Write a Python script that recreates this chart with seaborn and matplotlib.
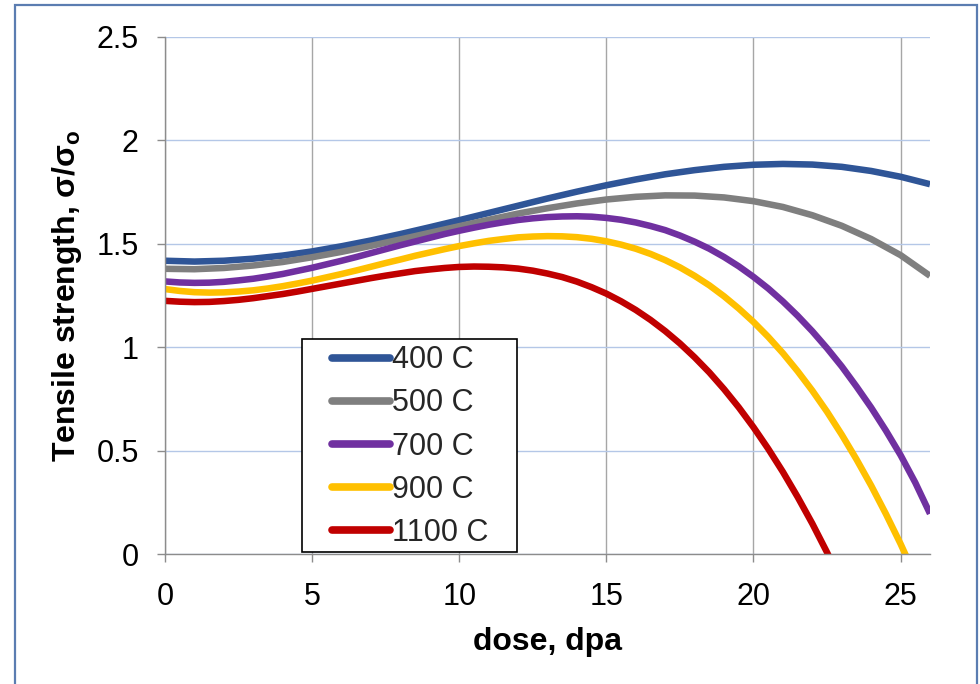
import matplotlib
matplotlib.use("Agg")
import matplotlib.pyplot as plt
import seaborn as sns
import pandas as pd
from matplotlib.patches import Rectangle

# ---- data ----
dose = list(range(0, 27))                      # 400 C and 500 C, every 1 dpa
dose_half = [i * 0.5 for i in range(53)]       # 700 C and 900 C, every 0.5 dpa
dose_1100 = [i * 0.5 for i in range(47)]       # 1100 C, every 0.5 dpa up to 23

s400 = [1.418, 1.414, 1.418, 1.428, 1.443, 1.463, 1.488, 1.516, 1.547, 1.580, 1.614,
        1.649, 1.684, 1.719, 1.752, 1.783, 1.811, 1.836, 1.856, 1.872, 1.882,
        1.886, 1.883, 1.872, 1.852, 1.824, 1.788]
s500 = [1.379, 1.377, 1.383, 1.395, 1.412, 1.435, 1.461, 1.490, 1.521, 1.553, 1.585,
        1.616, 1.646, 1.672, 1.695, 1.714, 1.727, 1.734, 1.733, 1.724, 1.706,
        1.678, 1.638, 1.587, 1.523, 1.445, 1.345]
s700 = [1.318, 1.313, 1.311, 1.312, 1.316, 1.323, 1.331, 1.342, 1.354, 1.369,
        1.384, 1.401, 1.418, 1.436, 1.455, 1.474, 1.493, 1.511, 1.529, 1.547,
        1.563, 1.578, 1.592, 1.604, 1.615, 1.623, 1.629, 1.632, 1.633, 1.631,
        1.625, 1.616, 1.603, 1.586, 1.566, 1.540, 1.510, 1.476, 1.436, 1.391,
        1.340, 1.284, 1.221, 1.152, 1.077, 0.995, 0.907, 0.810, 0.708, 0.597,
        0.478, 0.345, 0.195]
s900 = [1.281, 1.272, 1.266, 1.264, 1.265, 1.269, 1.275, 1.284, 1.295, 1.308,
        1.322, 1.338, 1.354, 1.371, 1.389, 1.407, 1.424, 1.442, 1.458, 1.474,
        1.489, 1.502, 1.514, 1.523, 1.531, 1.535, 1.537, 1.536, 1.532, 1.524,
        1.512, 1.496, 1.476, 1.451, 1.421, 1.386, 1.345, 1.299, 1.246, 1.187,
        1.122, 1.050, 0.971, 0.884, 0.790, 0.688, 0.577, 0.458, 0.331, 0.194,
        0.049, -0.107, -0.272]
s1100 = [1.224, 1.220, 1.218, 1.219, 1.223, 1.229, 1.237, 1.247, 1.257, 1.269,
         1.282, 1.295, 1.308, 1.321, 1.334, 1.346, 1.357, 1.368, 1.376, 1.383,
         1.388, 1.390, 1.389, 1.386, 1.380, 1.370, 1.356, 1.339, 1.317, 1.290,
         1.259, 1.222, 1.180, 1.132, 1.078, 1.018, 0.951, 0.878, 0.797, 0.709,
         0.613, 0.509, 0.397, 0.276, 0.147, 0.008, -0.140]
series_names = ["400 C", "500 C", "700 C", "900 C", "1100 C"]
colors = ["#2F5597", "#7F7F7F", "#7030A0", "#FFC000", "#C00000"]
x_ticks = [0, 5, 10, 15, 20, 25]
y_ticks = [0, 0.5, 1, 1.5, 2, 2.5]
y_tick_labels = ["0", "0.5", "1", "1.5", "2", "2.5"]

frames = []
for name, xs, ys in zip(series_names,
                        [dose, dose, dose_half, dose_half, dose_1100],
                        [s400, s500, s700, s900, s1100]):
    frames.append(pd.DataFrame({"dose": xs, "strength": ys, "temp": name}))
df = pd.concat(frames, ignore_index=True)

sns.set_theme(style="white")
plt.rcParams["font.family"] = ["Liberation Sans", "DejaVu Sans"]
plt.rcParams["mathtext.fontset"] = "custom"
plt.rcParams["mathtext.bf"] = "Liberation Sans:bold"
plt.rcParams["mathtext.rm"] = "Liberation Sans"

fig = plt.figure(figsize=(9.8, 6.84), dpi=100)
fig.patch.set_facecolor("white")
ax = fig.add_axes([0.1684, 0.19, 0.7806, 0.756])

sns.lineplot(data=df, x="dose", y="strength", hue="temp", hue_order=series_names,
             palette=dict(zip(series_names, colors)), linewidth=4.7, sort=False,
             ax=ax, legend=True)
for ln in ax.get_lines():
    ln.set_solid_capstyle("butt")
    ln.set_solid_joinstyle("round")

ax.set_xlim(0, 26)
ax.set_ylim(0, 2.5)
ax.set_xticks(x_ticks)
ax.set_xticklabels([str(t) for t in x_ticks])
ax.set_yticks(y_ticks)
ax.set_yticklabels(y_tick_labels)

ax.grid(False)
ax.xaxis.grid(True, color="#A6A6A6", linewidth=1.0)
ax.yaxis.grid(True, color="#B4C7E7", linewidth=1.0)
ax.set_axisbelow(True)
for side in ["top", "right"]:
    ax.spines[side].set_visible(False)
for side in ["left", "bottom"]:
    ax.spines[side].set_color("#8C8C8C")
    ax.spines[side].set_linewidth(1.0)

ax.tick_params(axis="both", direction="out", length=6, width=1.0, color="#8C8C8C",
               labelsize=22, labelcolor="black")
ax.tick_params(axis="y", pad=13)
ax.tick_params(axis="x", pad=14)
ax.xaxis.set_ticks_position("bottom")
ax.yaxis.set_ticks_position("left")

ax.set_xlabel("dose, dpa", fontsize=23, fontweight="bold", color="black")
ax.set_ylabel("Tensile strength, σ/σ$_\\mathbf{o}$", fontsize=23, fontweight="bold",
              color="black")
ax.xaxis.set_label_coords(0.5, -0.141)
ax.xaxis.label.set_va("top")
ax.yaxis.set_label_coords(-0.106, 0.5)

handles, labels = ax.get_legend_handles_labels()
leg = ax.legend(handles, labels, loc="lower left", bbox_to_anchor=(0.2123, 0.003),
                frameon=False, fontsize=22, handlelength=1.9, handletextpad=0.05,
                labelspacing=0.43, borderpad=0.15, borderaxespad=0)
for h in leg.get_lines():
    h.set_linewidth(5.5)
    h.set_solid_capstyle("round")

# legend frame drawn around the legend contents with wider side margins
fig.canvas.draw()
bb = leg.get_window_extent()
W, H = fig.bbox.width, fig.bbox.height
rx0 = (bb.x0 - 25) / W
rx1 = (bb.x1 + 24) / W
ry0 = (684 - 552) / 684
ry1 = (bb.y1 + 2) / H
ax.add_patch(Rectangle((rx0, ry0), rx1 - rx0, ry1 - ry0, transform=fig.transFigure,
                       facecolor="white", edgecolor="black", linewidth=1.2,
                       zorder=4, clip_on=False))
leg.set_zorder(5)

# outer slide-style frame
fig.patches.append(Rectangle((15 / 980, -0.01), (977 - 15) / 980, 1 - 5 / 684 + 0.01,
                             transform=fig.transFigure, fill=False,
                             edgecolor="#5B7DB1", linewidth=1.6))

fig.savefig("out.png", dpi=100, facecolor="white")
